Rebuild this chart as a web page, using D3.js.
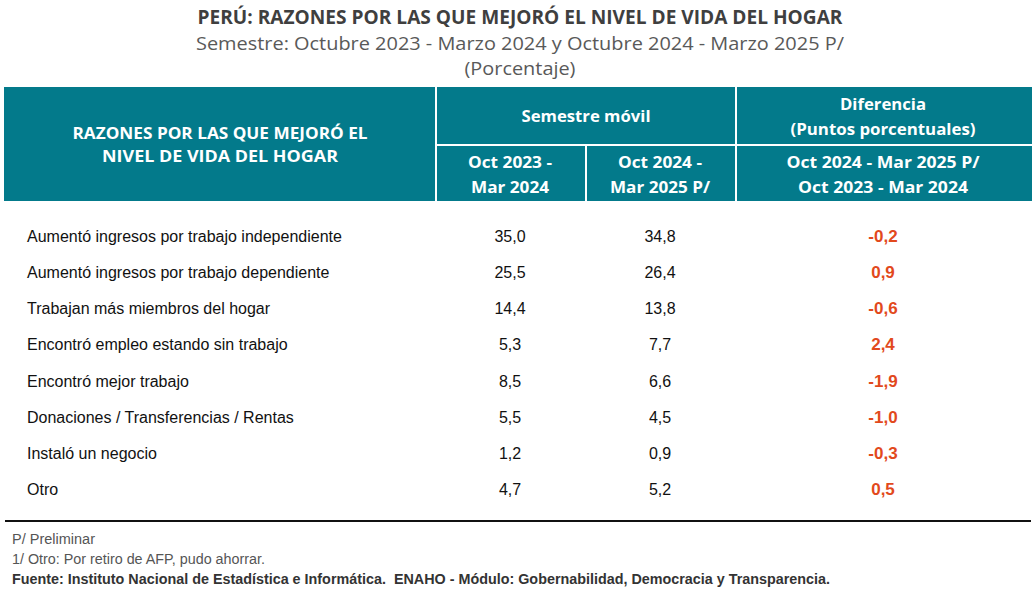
<!DOCTYPE html>
<html><head><meta charset="utf-8">
<script src="https://cdn.jsdelivr.net/npm/d3@7"></script>
<style>body{margin:0;background:#fff;} svg{display:block;}</style>
</head><body>
<svg id="c" width="1036" height="598"></svg>
<script>
const titleLines = ["PERÚ: RAZONES POR LAS QUE MEJORÓ EL NIVEL DE VIDA DEL HOGAR",
  "Semestre: Octubre 2023 - Marzo 2024 y Octubre 2024 - Marzo 2025 P/",
  "(Porcentaje)"];
const categories = ["Aumentó ingresos por trabajo independiente","Aumentó ingresos por trabajo dependiente",
  "Trabajan más miembros del hogar","Encontró empleo estando sin trabajo","Encontró mejor trabajo",
  "Donaciones / Transferencias / Rentas","Instaló un negocio","Otro"];
const period1 = [35.0,25.5,14.4,5.3,8.5,5.5,1.2,4.7];
const period2 = [34.8,26.4,13.8,7.7,6.6,4.5,0.9,5.2];
const difference = [-0.2,0.9,-0.6,2.4,-1.9,-1.0,-0.3,0.5];
const headerLeft = ["RAZONES POR LAS QUE MEJORÓ EL","NIVEL DE VIDA DEL HOGAR"];
const headerGroup1 = "Semestre móvil";
const headerGroup2 = ["Diferencia","(Puntos porcentuales)"];
const headerCol1 = ["Oct 2023 -","Mar 2024"];
const headerCol2 = ["Oct 2024 -","Mar 2025 P/"];
const headerCol3 = ["Oct 2024 - Mar 2025 P/","Oct 2023 - Mar 2024"];
const notes = ["P/ Preliminar","1/ Otro: Por retiro de AFP, pudo ahorrar.",
  "Fuente: Instituto Nacional de Estadística e Informática.\u00a0 ENAHO - Módulo: Gobernabilidad, Democracia y Transparencia."];

const svg = d3.select("#c");
const fmt = v => d3.format(".1f")(v).replace("\u2212", "-").replace(".", ",");
const teal = "#037a8b", red = "#e2491c";
const headFont = "'Open Sans', 'Noto Sans', sans-serif";
const bodyFont = "'Liberation Sans', Arial, sans-serif";

// Title
const tl = [{y:24, w:645, bold:true, size:19, fill:"#3f3f3f"},{y:50, w:648, bold:false, size:19, fill:"#595959"},{y:75, w:111, bold:false, size:19, fill:"#595959"}];
titleLines.forEach((t,i)=>{
  svg.append("text").attr("x",520).attr("y",tl[i].y).attr("text-anchor","middle")
    .attr("font-family",headFont).attr("font-size",tl[i].size).attr("font-weight",tl[i].bold?700:400)
    .attr("fill",tl[i].fill).attr("textLength",tl[i].w).attr("lengthAdjust","spacingAndGlyphs").text(t);
});

// Header box
const x0=4, x1=436, x2=586, x3=736, x4=1032, yh0=87, yh1=145, yh2=201;
svg.append("rect").attr("x",x0).attr("y",yh0).attr("width",x4-x0).attr("height",yh2-yh0).attr("fill",teal);
const wl = (xa,ya,xb,yb)=>svg.append("line").attr("x1",xa).attr("y1",ya).attr("x2",xb).attr("y2",yb).attr("stroke","#fff").attr("stroke-width",2);
wl(x1,yh0,x1,yh2); wl(x3,yh0,x3,yh2); wl(x1,yh1,x4,yh1); wl(x2,yh1,x2,yh2);

function hText(lines, cx, ys, widths){
  lines.forEach((t,i)=>{
    const el = svg.append("text").attr("x",cx).attr("y",ys[i]).attr("text-anchor","middle")
      .attr("font-family",headFont).attr("font-size",16).attr("font-weight",700).attr("fill","#fff").text(t);
    if(widths && widths[i]) el.attr("textLength",widths[i]).attr("lengthAdjust","spacingAndGlyphs");
  });
}
hText(headerLeft, 220, [139,162], [295,236]);
hText([headerGroup1], 586, [122], [129]);
hText(headerGroup2, 883, [110,135], [86,185]);
hText(headerCol1, 510, [168,193], [84,78]);
hText(headerCol2, 660, [168,193], [84,100]);
hText(headerCol3, 883, [168,193], [193,170]);

// Rows
const y = d3.scaleBand().domain(categories).range([218, 507]).paddingInner(0);
const g = svg.append("g");
const rows = g.selectAll("g.row").data(categories).join("g").attr("class","row")
  .attr("transform",d=>`translate(0,${y(d)+y.bandwidth()/2})`);
rows.append("text").attr("x",27).attr("y",6).attr("font-family",bodyFont).attr("font-size",16).attr("fill","#111").text(d=>d);
rows.append("text").attr("x",510).attr("y",6).attr("text-anchor","middle").attr("font-family",bodyFont).attr("font-size",16).attr("fill","#111").text((d,i)=>fmt(period1[i]));
rows.append("text").attr("x",660).attr("y",6).attr("text-anchor","middle").attr("font-family",bodyFont).attr("font-size",16).attr("fill","#111").text((d,i)=>fmt(period2[i]));
rows.append("text").attr("x",883).attr("y",6).attr("text-anchor","middle").attr("font-family",bodyFont).attr("font-size",17).attr("font-weight",700).attr("fill",red).text((d,i)=>fmt(difference[i]));

// Bottom rule
svg.append("line").attr("x1",5).attr("x2",1031).attr("y1",521).attr("y2",521).attr("stroke","#111").attr("stroke-width",2);

// Notes
const nl=[{y:544,w:83,bold:false,fill:"#555"},{y:564,w:253,bold:false,fill:"#555"},{y:584,w:818,bold:true,fill:"#333"}];
notes.forEach((t,i)=>{
  svg.append("text").attr("x",12).attr("y",nl[i].y).attr("font-family",bodyFont).attr("font-size",14)
    .attr("font-weight",nl[i].bold?700:400).attr("fill",nl[i].fill)
    .attr("textLength",nl[i].w).attr("lengthAdjust","spacingAndGlyphs").text(t);
});
</script>
</body></html>
